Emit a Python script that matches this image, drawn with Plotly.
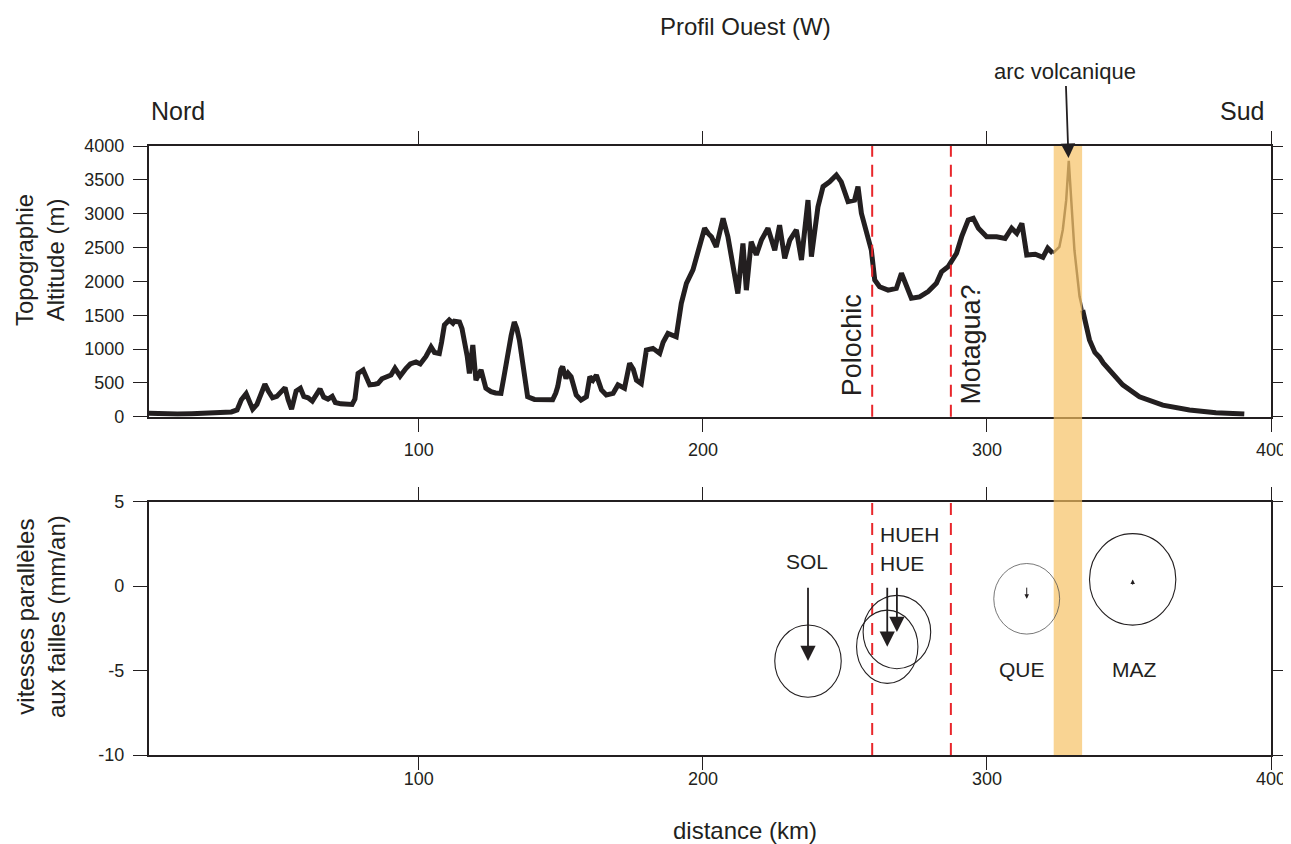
import plotly.graph_objects as go

# ---------------- data ----------------
dist_km = [0, 5, 10, 15, 20, 25, 30, 34, 36, 37.5, 39.2, 40.5, 41.5, 43, 44.5, 45.8, 47, 48.5, 50, 51.5,
           52.9, 54, 55.2, 56.8, 58.3, 59.5, 61, 62.5, 64, 65.2, 66.5, 68, 69.5, 70.6, 72.5, 74.5, 76.5,
           77.5, 78.6, 80.4, 81.5, 82.7, 84.5, 85.6, 87, 88.6, 90.2, 91.6, 93.4, 95.5, 97, 99, 100.5,
           102.5, 104.3, 105.5, 107.2, 108, 109, 110.7, 112, 112.5, 114.3, 115.2, 116, 117, 117.8, 119,
           120.1, 121.9, 123.6, 125.4, 127, 128.9, 130, 131.3, 132.5, 133.6, 134.5, 135.4, 137.1, 138.3,
           140.7, 144.2, 147.1, 148.2, 148.9, 150, 150.6, 151.8, 152.6, 153.6, 155.4, 157.1, 159, 160.2,
           161.3, 162.5, 164.3, 166, 168.4, 170.1, 172.4, 174.2, 175.5, 176.6, 178.3, 180.1, 182.4, 184.8,
           186, 187.7, 190.6, 192.4, 194.2, 196.5, 198.3, 200.6, 202, 203, 204.7, 207.1, 208.8, 210.6,
           212.3, 214.1, 215.3, 217, 218.8, 220.6, 222.9, 225.3, 227, 228.8, 230.6, 232.9, 234.7, 237,
           238.2, 240.5, 242.3, 244.6, 247, 248.7, 251.1, 253.4, 254.6, 255.8, 258.1, 259.3, 260.5, 262.2,
           265.2, 268.1, 269.9, 271.6, 273.4, 276.3, 279.3, 282.2, 284, 286.3, 289.3, 291.1, 293.4, 295.2,
           297, 299.9, 303.4, 306.4, 308.7, 310.5, 312.3, 314, 317, 319.7, 321.4, 323.2, 325.5, 326.7,
           327.9, 328.8, 329.6, 330.8, 332.6, 333.7, 336.1, 338, 339.6, 341, 343.1, 347.8, 353.7, 361.9,
           371.3, 380.6, 390.6]
alt_m = [55, 45, 35, 40, 45, 55, 60, 70, 100, 250, 340, 180, 110, 180, 350, 480, 380, 280, 300, 380,
         430, 250, 110, 380, 420, 300, 280, 230, 330, 410, 290, 260, 300, 210, 190, 180, 180,
         260, 640, 690, 580, 470, 480, 490, 560, 590, 615, 715, 600, 715, 780, 810, 780,
         890, 1030, 950, 935, 1100, 1355, 1430, 1380, 1410, 1400, 1300, 1130, 900, 640, 1060,
         540, 690, 420, 370, 350, 345, 600, 935, 1200, 1400, 1300, 1130, 640, 295,
         255, 245, 250, 350, 445, 700, 740, 565, 640, 590, 320, 245, 295, 590,
         540, 615, 395, 320, 345, 470, 420, 790, 700, 540, 490, 985, 1010, 935,
         1100, 1230, 1180, 1675, 1970, 2170, 2460, 2785, 2700, 2660, 2510, 2930, 2660, 2170,
         1820, 2560, 1870, 2585, 2390, 2610, 2785, 2460, 2830, 2340, 2610, 2760, 2315, 3200,
         2365, 3100, 3400, 3470, 3570, 3470, 3180, 3200, 3400, 3005, 2660, 2460, 2020, 1920,
         1870, 1895, 2120, 1920, 1750, 1770, 1850, 1970, 2140, 2215, 2415, 2660, 2905, 2930,
         2785, 2660, 2660, 2635, 2785, 2710, 2855, 2390, 2400, 2355, 2490, 2415, 2510, 2760,
         3200, 3780, 3250, 2460, 1775, 1575, 1135, 950, 880, 790, 690, 470, 295, 170,
         100, 60, 40]

fault_names = ["Polochic", "Motagua?"]
fault_km = [259.6, 287.3]
fault_label_km = [252.6, 294.5]
fault_label_alt = [1060, 1070]

arc_band_km = [323.5, 333.5]
arc_peak_km = 328.7
arc_peak_alt = 3823

stations = ["SOL", "HUE", "HUEH", "QUE", "MAZ"]
st_km = [237.0, 264.9, 268.3, 314.0, 351.3]
st_v = [-4.44, -3.59, -2.72, -0.75, 0.4]
st_ell_km = [11.7, 10.8, 11.9, 11.6, 15.2]
st_ell_v = [2.14, 2.17, 2.17, 2.09, 2.71]
label_km = [236.5, 261.5, 261.5, 312.2, 352.0]
label_v = [1.43, 1.37, 3.03, -4.96, -4.96]

x_ticks = [100, 200, 300, 400]
x_ticktext = ["100", "200", "300", "400"]
topo_ticks = [0, 500, 1000, 1500, 2000, 2500, 3000, 3500, 4000]
topo_ticktext = ["0", "500", "1000", "1500", "2000", "2500", "3000", "3500", "4000"]
vel_ticks = [-10, -5, 0, 5]
vel_ticktext = ["-10", "-5", "0", "5"]

# ---------------- style ----------------
INK = "#231f20"
RED = "#e8262b"
FONT = "Liberation Sans"
OFF = 8                      # default page body margin
SCREEN_W, SCREEN_H = 1291, 844
W, H = SCREEN_W - OFF, SCREEN_H - OFF
PLOT_L, PLOT_R, PLOT_T, PLOT_B = 149, 1271, 146, 755   # plot area on screen
ML, MR, MT, MB = PLOT_L - OFF, SCREEN_W - PLOT_R, PLOT_T - OFF, SCREEN_H - PLOT_B
PW = PLOT_R - PLOT_L
PH = PLOT_B - PLOT_T


def px_x(px):
    return (px - PLOT_L) / PW


def px_y(py):
    return (PLOT_B - py) / PH


# split the profile: thick outside the volcanic-arc band, thinner inside it
first_in = max(i for i, d in enumerate(dist_km) if d <= arc_band_km[0])
last_in = min(i for i, d in enumerate(dist_km) if d >= arc_band_km[1])
out_x = dist_km[:first_in + 1] + [None] + dist_km[last_in:]
out_y = alt_m[:first_in + 1] + [None] + alt_m[last_in:]
in_x = dist_km[first_in:last_in + 1]
in_y = alt_m[first_in:last_in + 1]

fig = go.Figure()
fig.add_trace(go.Scatter(x=out_x, y=out_y, mode="lines", xaxis="x", yaxis="y", connectgaps=False,
                         line=dict(color=INK, width=5), hoverinfo="skip", showlegend=False))
fig.add_trace(go.Scatter(x=in_x, y=in_y, mode="lines", xaxis="x", yaxis="y",
                         line=dict(color="#4a4444", width=2.5), hoverinfo="skip", showlegend=False))
# invisible trace to activate bottom subplot
fig.add_trace(go.Scatter(x=[st_km[0]], y=[st_v[0]], mode="markers", xaxis="x2", yaxis="y2",
                         marker=dict(opacity=0), hoverinfo="skip", showlegend=False))

axis_common = dict(showgrid=False, zeroline=False, showline=True, linewidth=2.2, linecolor=INK,
                   mirror="ticks", ticks="outside", tickwidth=1, tickcolor=INK,
                   tickfont=dict(family=FONT, size=18, color=INK))

fig.update_layout(
    width=W, height=H,
    margin=dict(l=ML, r=MR, t=MT, b=MB, autoexpand=False),
    paper_bgcolor="white", plot_bgcolor="white",
    showlegend=False,
    xaxis=dict(domain=[0, 1], range=[5, 400], anchor="y", tickvals=x_ticks, ticktext=x_ticktext,
               ticklen=13, ticklabelstandoff=3, **axis_common),
    yaxis=dict(domain=[px_y(416.7), 1], range=[0, 4000], anchor="x", tickvals=topo_ticks,
               ticktext=topo_ticktext, ticklen=14, ticklabelstandoff=5, **axis_common),
    xaxis2=dict(domain=[0, 1], range=[5, 400], anchor="y2", tickvals=x_ticks, ticktext=x_ticktext,
                ticklen=13, ticklabelstandoff=-7, **axis_common),
    yaxis2=dict(domain=[0, px_y(501.7)], range=[-10, 5], anchor="x2", tickvals=vel_ticks,
                ticktext=vel_ticktext, ticklen=14, ticklabelstandoff=5, **axis_common),
)

shapes = []
# fault lines
for fk in fault_km:
    for xr, yr in (("x", "y domain"), ("x2", "y2 domain")):
        shapes.append(dict(type="line", xref=xr, yref=yr, x0=fk, x1=fk, y0=0, y1=1,
                           line=dict(color=RED, width=2, dash="12px,8px"), layer="above"))
# volcanic arc band (over both panels)
shapes.append(dict(type="rect", xref="x", yref="paper", x0=arc_band_km[0], x1=arc_band_km[1],
                   y0=0, y1=1, fillcolor="#f6c060", opacity=0.68, line=dict(width=0), layer="above"))
# error ellipses
for name, sx, sv, ex, ev in zip(stations, st_km, st_v, st_ell_km, st_ell_v):
    thin = name == "QUE"
    shapes.append(dict(type="circle", xref="x2", yref="y2", x0=sx - ex, x1=sx + ex,
                       y0=sv - ev, y1=sv + ev,
                       line=dict(color="#555555" if thin else INK, width=0.8 if thin else 1.1)))
fig.update_layout(shapes=shapes)

ann = []
# velocity arrows
for name, sx, sv in zip(stations, st_km, st_v):
    small = abs(sv) < 1
    ann.append(dict(x=sx, y=sv, ax=sx, ay=0, xref="x2", yref="y2", axref="x2", ayref="y2",
                    text="", showarrow=True, arrowhead=2, arrowcolor=INK,
                    arrowwidth=1 if small else 1.8, arrowsize=0.9 if small else 1.7, standoff=0))
# station labels
for name, lx, lv in zip(stations, label_km, label_v):
    left = name.startswith("HUE")
    ann.append(dict(x=lx, y=lv, xref="x2", yref="y2", text=name, showarrow=False,
                    xanchor="left" if left else "center", yanchor="middle",
                    font=dict(family=FONT, size=21, color=INK)))
# fault labels
for name, fx, fy in zip(fault_names, fault_label_km, fault_label_alt):
    ann.append(dict(x=fx, y=fy, xref="x", yref="y", text=name, textangle=-90, showarrow=False,
                    xanchor="center", yanchor="middle", font=dict(family=FONT, size=27, color=INK)))
# volcanic arc arrow
ann.append(dict(x=arc_peak_km, y=arc_peak_alt, xref="x", yref="y", text="arc volcanique",
                showarrow=True, ax=-3, ay=-86, arrowhead=2, arrowsize=1.6, arrowwidth=1.8,
                arrowcolor=INK, standoff=0, font=dict(family=FONT, size=22, color=INK)))


def paper_text(text, cx, cy, size, angle=0):
    return dict(x=px_x(cx), y=px_y(cy), xref="paper", yref="paper", text=text,
                xanchor="center", yanchor="middle", textangle=angle, showarrow=False,
                font=dict(family=FONT, size=size, color=INK))


ann.append(paper_text("Profil Ouest (W)", 745, 27, 24))
ann.append(paper_text("Nord", 178, 111, 25))
ann.append(paper_text("Sud", 1242, 111, 25))
ann.append(paper_text("distance (km)", 745, 830, 24))
ann.append(paper_text("Topographie<br>Altitude (m)", 40, 260, 24, -90))
ann.append(paper_text("vitesses parallèles<br>aux failles (mm/an)", 41, 617, 24, -90))
fig.update_layout(annotations=ann)

fig.write_html("out.html")
